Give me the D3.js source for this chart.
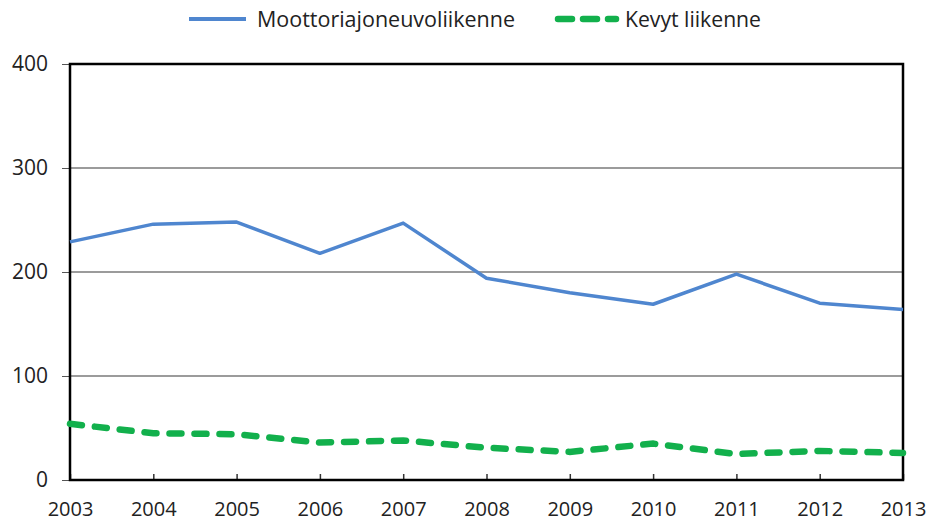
<!DOCTYPE html>
<html>
<head>
<meta charset="utf-8">
<script src="https://cdn.jsdelivr.net/npm/d3@7"></script>
<style>
  body { margin: 0; background: #fff; }
  text { font-family: "Open Sans", "DejaVu Sans", sans-serif; fill: #222; }
</style>
</head>
<body>
<script>
"use strict";

///////////////////
// data
///////////////////
var years = [2003, 2004, 2005, 2006, 2007, 2008, 2009, 2010, 2011, 2012, 2013];
var moottori = [229, 246, 248, 218, 247, 194, 180, 169, 198, 170, 164];
var kevyt = [54, 45, 44, 36, 38, 31, 27, 35, 25, 28, 26];
var yTicks = [0, 100, 200, 300, 400];
var seriesNames = ["Moottoriajoneuvoliikenne", "Kevyt liikenne"];

(function() {

    ///////////////////
    // layout
    ///////////////////
    var W = 929, H = 527;
    var plotLeft = 70, plotRight = 903, plotTop = 64, plotBottom = 480;
    var blue = "#4f86cf", green = "#12b04c";

    var svg = d3.select("body").append("svg")
        .attr("width", W)
        .attr("height", H);

    var x = d3.scaleLinear().domain([2003, 2013]).range([plotLeft, plotRight]);
    var y = d3.scaleLinear().domain([0, 400]).range([plotBottom, plotTop]);

    // gridlines
    svg.selectAll("line.grid")
        .data(yTicks.filter(function(d) { return d > 0 && d < 400; }))
        .enter()
        .append("line")
        .attr("class", "grid")
        .attr("x1", plotLeft).attr("x2", plotRight)
        .attr("y1", function(d) { return y(d); })
        .attr("y2", function(d) { return y(d); })
        .style("stroke", "#7a7a7a")
        .style("stroke-width", 1.5);

    // y axis (ticks outside, labels)
    var yAxis = d3.axisLeft(y).tickValues(yTicks).tickSize(8).tickPadding(14)
        .tickFormat(d3.format("d"));
    var gy = svg.append("g").attr("transform", "translate(" + plotLeft + ",0)").call(yAxis);
    gy.select(".domain").remove();
    gy.selectAll(".tick line").style("stroke", "#555").style("stroke-width", 1);
    gy.selectAll(".tick text").style("font-size", "21px").attr("fill", "#222");

    // x axis (ticks pointing in, labels below)
    var xAxis = d3.axisBottom(x).tickValues(years).tickSizeInner(-6).tickSizeOuter(0)
        .tickPadding(22).tickFormat(d3.format("d"));
    var gx = svg.append("g").attr("transform", "translate(0," + plotBottom + ")").call(xAxis);
    gx.select(".domain").remove();
    gx.selectAll(".tick line").style("stroke", "#333").style("stroke-width", 1.5);
    gx.selectAll(".tick text").style("font-size", "20px").attr("fill", "#222");

    // frame
    svg.append("rect")
        .attr("x", plotLeft).attr("y", plotTop)
        .attr("width", plotRight - plotLeft).attr("height", plotBottom - plotTop)
        .style("fill", "none")
        .style("stroke", "#000")
        .style("stroke-width", 2.5);

    // lines
    var line = d3.line()
        .x(function(d, i) { return x(years[i]); })
        .y(function(d) { return y(d); });

    svg.append("path")
        .datum(moottori)
        .attr("d", line)
        .style("fill", "none")
        .style("stroke", blue)
        .style("stroke-width", 3.5)
        .style("stroke-linejoin", "round");

    svg.append("path")
        .datum(kevyt)
        .attr("d", line)
        .style("fill", "none")
        .style("stroke", green)
        .style("stroke-width", 6.5)
        .style("stroke-linecap", "round")
        .style("stroke-dasharray", "12,13");

    // legend
    var lg = svg.append("g");
    lg.append("line")
        .attr("x1", 189).attr("x2", 246).attr("y1", 19).attr("y2", 19)
        .style("stroke", blue).style("stroke-width", 4);
    lg.append("text")
        .attr("x", 257).attr("y", 27)
        .attr("textLength", 258).attr("lengthAdjust", "spacingAndGlyphs")
        .style("font-size", "22px")
        .text(seriesNames[0]);
    lg.append("line")
        .attr("x1", 558).attr("x2", 616).attr("y1", 19).attr("y2", 19)
        .style("stroke", green).style("stroke-width", 6.5)
        .style("stroke-linecap", "round")
        .style("stroke-dasharray", "14,11");
    lg.append("text")
        .attr("x", 625).attr("y", 27)
        .attr("textLength", 136).attr("lengthAdjust", "spacingAndGlyphs")
        .style("font-size", "22px")
        .text(seriesNames[1]);

})();
</script>
</body>
</html>
